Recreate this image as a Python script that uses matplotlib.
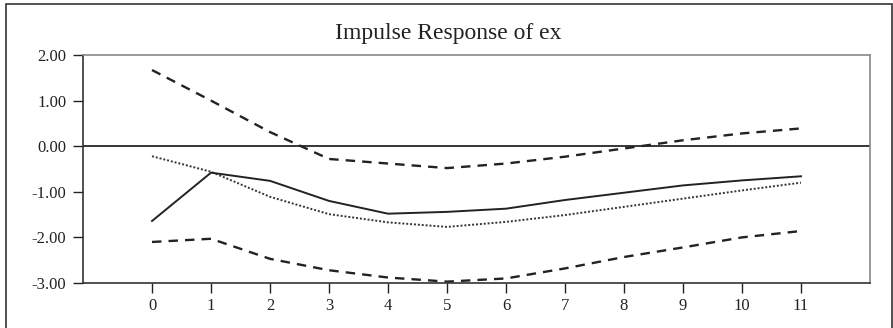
import matplotlib
matplotlib.use('Agg')
import matplotlib.pyplot as plt
from matplotlib.patches import Rectangle
from matplotlib.ticker import FormatStrFormatter

plt.rcParams['font.family'] = ['Liberation Serif', 'DejaVu Serif']

periods = [0, 1, 2, 3, 4, 5, 6, 7, 8, 9, 10, 11]
response = [-1.64, -0.58, -0.76, -1.20, -1.48, -1.44, -1.37, -1.18, -1.02, -0.86, -0.75, -0.66]
response_alt = [-0.22, -0.56, -1.11, -1.49, -1.67, -1.77, -1.66, -1.51, -1.33, -1.15, -0.97, -0.80]
upper_band = [1.67, 1.00, 0.31, -0.28, -0.38, -0.48, -0.38, -0.23, -0.05, 0.13, 0.28, 0.39]
lower_band = [-2.10, -2.03, -2.47, -2.72, -2.88, -2.97, -2.90, -2.68, -2.43, -2.22, -2.00, -1.86]
yticks = [2.0, 1.0, 0.0, -1.0, -2.0, -3.0]

fig = plt.figure(figsize=(8.93, 3.28), dpi=100)
ax = fig.add_axes([83/893, 1-283/328, (870-83)/893, (283-55)/328])

# outer frame around the whole picture
fig.patches.append(Rectangle((5.5/893, -0.05), (892-5.5)/893, 1.05 - 3.5/328,
                             transform=fig.transFigure, fill=False,
                             edgecolor='#333333', linewidth=1.2))

ax.axhline(0, color='black', linewidth=1.1)
ax.plot(periods, upper_band, color='#222222', linestyle=(0, (4, 3)), linewidth=1.7)
ax.plot(periods, lower_band, color='#222222', linestyle=(0, (4, 3)), linewidth=1.7)
ax.plot(periods, response_alt, color='#333333', linestyle=(0, (1, 1)), linewidth=1.4)
ax.plot(periods, response, color='#222222', linestyle='-', linewidth=1.4)

ax.set_xlim(-1.17, 12.17)
ax.set_ylim(-3.0, 2.0)
ax.set_xticks(periods)
ax.set_yticks(yticks)
ax.yaxis.set_major_formatter(FormatStrFormatter('%.2f'))
ax.tick_params(direction='out', length=7, width=1, labelsize=12, colors='#222222')
ax.tick_params(axis='x', pad=4)
ax.tick_params(axis='y', pad=5)

for side in ['left', 'bottom']:
    ax.spines[side].set_color('#333333')
    ax.spines[side].set_linewidth(1.2)
for side in ['top', 'right']:
    ax.spines[side].set_color('#888888')
    ax.spines[side].set_linewidth(1.2)

fig.text(0.502, 1-33/328, 'Impulse Response of ex', ha='center', va='center',
         fontsize=17, color='#222222')

fig.savefig('out.png', dpi=100)
